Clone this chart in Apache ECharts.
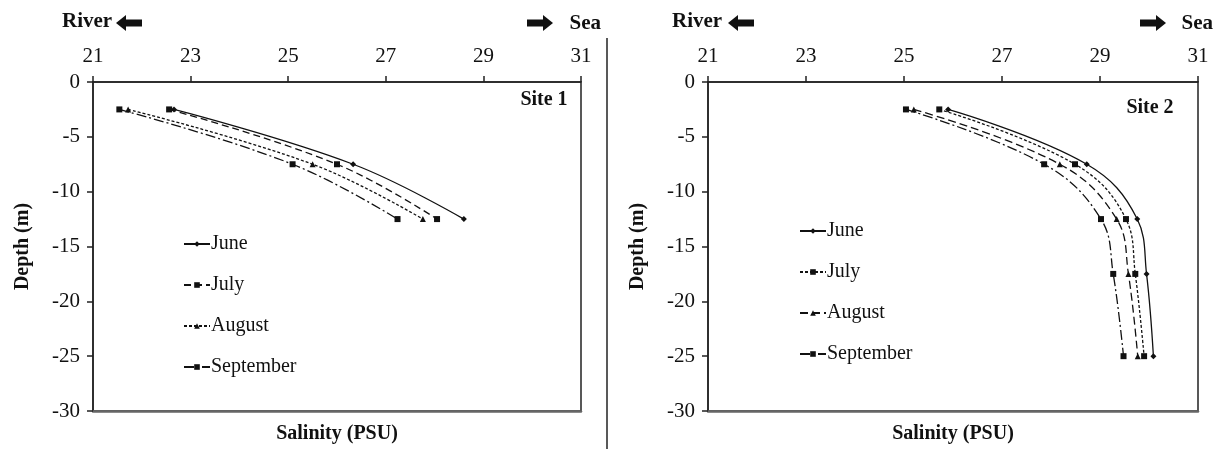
<!DOCTYPE html>
<html>
<head>
<meta charset="utf-8">
<script src="https://cdn.jsdelivr.net/npm/echarts@6/dist/echarts.min.js"></script>
<style>
  html, body { margin: 0; padding: 0; background: #fff; }
  #chart { width: 1216px; height: 449px; }
</style>
</head>
<body>
<div id="chart"></div>
<script>
// depths (m) and salinity (PSU)
var depth1 = [-2.5, -7.5, -12.5];
var site1June = [22.66, 26.33, 28.6];
var site1July = [22.56, 26.0, 28.05];
var site1Aug = [21.72, 25.5, 27.76];
var site1Sep = [21.54, 25.09, 27.24];

var depth2 = [-2.5, -7.5, -12.5, -17.5, -25];
var site2June = [25.9, 28.73, 29.76, 29.95, 30.09];
var site2July = [25.72, 28.49, 29.53, 29.72, 29.9];
var site2Aug = [25.2, 28.18, 29.34, 29.58, 29.77];
var site2Sep = [25.04, 27.86, 29.02, 29.27, 29.48];

var months = ['June', 'July', 'August', 'September'];
var xTicks = [21, 23, 25, 27, 29, 31];
var yTicks = [0, -5, -10, -15, -20, -25, -30];

var serif = 'Liberation Serif';
var ink = '#111';

function pairs(xs, ys) {
    return xs.map(function (x, i) { return [x, ys[i]]; });
}

// line dash + marker per month, per site
var styles1 = {
    'June': { dash: 'solid', symbol: 'diamond', size: 6 },
    'July': { dash: [7, 4], symbol: 'rect', size: 6 },
    'August': { dash: [3, 2], symbol: 'triangle', size: 6 },
    'September': { dash: [10, 3, 2, 3], symbol: 'rect', size: 6 }
};
var styles2 = {
    'June': { dash: 'solid', symbol: 'diamond', size: 6 },
    'July': { dash: [3, 2], symbol: 'rect', size: 6 },
    'August': { dash: [8, 4], symbol: 'triangle', size: 6 },
    'September': { dash: [10, 3, 2, 3], symbol: 'rect', size: 6 }
};

function makeSeries(prefix, idx, name, xs, ys, st) {
    return {
        name: prefix + name,
        type: 'line',
        xAxisIndex: idx * 2,
        yAxisIndex: idx,
        data: pairs(xs, ys),
        smooth: 0.4,
        symbol: st.symbol,
        symbolSize: st.size,
        itemStyle: { color: ink },
        lineStyle: { color: ink, width: 1.3, type: st.dash },
        animation: false,
        z: 3
    };
}

var series = [
    makeSeries('', 0, 'June', site1June, depth1, styles1['June']),
    makeSeries('', 0, 'July', site1July, depth1, styles1['July']),
    makeSeries('', 0, 'August', site1Aug, depth1, styles1['August']),
    makeSeries('', 0, 'September', site1Sep, depth1, styles1['September']),
    makeSeries('S2 ', 1, 'June', site2June, depth2, styles2['June']),
    makeSeries('S2 ', 1, 'July', site2July, depth2, styles2['July']),
    makeSeries('S2 ', 1, 'August', site2Aug, depth2, styles2['August']),
    makeSeries('S2 ', 1, 'September', site2Sep, depth2, styles2['September'])
];

function topAxis(g) {
    return {
        type: 'value', gridIndex: g, position: 'top',
        min: xTicks[0], max: xTicks[xTicks.length - 1], interval: 2,
        axisLine: { show: true, lineStyle: { color: '#222', width: 1.5 } },
        axisTick: { show: true, length: 6, lineStyle: { color: '#222', width: 1.5 } },
        axisLabel: { color: ink, fontFamily: serif, fontSize: 21, margin: 15 },
        splitLine: { show: false }
    };
}
function bottomAxis(g) {
    return {
        type: 'value', gridIndex: g, position: 'bottom',
        min: xTicks[0], max: xTicks[xTicks.length - 1],
        axisLine: { show: true, onZero: false, lineStyle: { color: '#666', width: 2.5 } },
        axisTick: { show: false },
        axisLabel: { show: false },
        splitLine: { show: false },
        name: 'Salinity (PSU)', nameLocation: 'middle', nameGap: 13,
        nameTextStyle: { color: ink, fontFamily: serif, fontSize: 20, fontWeight: 'bold' }
    };
}
function leftAxis(g) {
    return {
        type: 'value', gridIndex: g,
        min: yTicks[yTicks.length - 1], max: yTicks[0], interval: 5,
        axisLine: { show: true, onZero: false, lineStyle: { color: '#222', width: 1.5 } },
        axisTick: { show: true, length: 6, lineStyle: { color: '#222', width: 1.5 } },
        axisLabel: { color: ink, fontFamily: serif, fontSize: 21, margin: 13 },
        splitLine: { show: false },
        name: 'Depth (m)', nameLocation: 'middle', nameGap: 60,
        nameTextStyle: { color: ink, fontFamily: serif, fontSize: 20, fontWeight: 'bold' }
    };
}

function legend(prefix, left, top) {
    return {
        orient: 'vertical', left: left, top: top,
        data: months.map(function (m) { return prefix + m; }),
        itemWidth: 26, itemHeight: 7, itemGap: 21,
        formatter: function (n) { return n.replace(prefix, ''); },
        textStyle: { color: ink, fontFamily: serif, fontSize: 20, padding: [0, 0, 0, -4] },
        selectedMode: false
    };
}

function arrow(x, y, dir) {
    // small block arrow, dir = -1 points left, 1 points right
    var w = 26, h = 11, head = 10, hh = 8;
    var pts = dir > 0
        ? [[0, -h / 2 + 2], [w - head, -h / 2 + 2], [w - head, -hh], [w, 0], [w - head, hh], [w - head, h / 2 - 2], [0, h / 2 - 2]]
        : [[w, -h / 2 + 2], [head, -h / 2 + 2], [head, -hh], [0, 0], [head, hh], [head, h / 2 - 2], [w, h / 2 - 2]];
    return { type: 'polygon', x: x, y: y, shape: { points: pts }, style: { fill: '#111' } };
}

function label(text, x, y, align, size) {
    return {
        type: 'text', x: x, y: y,
        style: { text: text, fill: ink, font: 'bold ' + (size || 20) + 'px "Liberation Serif"', textAlign: align, textVerticalAlign: 'middle' }
    };
}

var chart = echarts.init(document.getElementById('chart'), null, { renderer: 'canvas' });
chart.setOption({
    backgroundColor: '#fff',
    animation: false,
    grid: [
        { left: 93, top: 82, width: 488, height: 331, show: true, borderColor: '#222', borderWidth: 1.5, backgroundColor: 'transparent' },
        { left: 708, top: 82, width: 490, height: 331, show: true, borderColor: '#222', borderWidth: 1.5, backgroundColor: 'transparent' }
    ],
    xAxis: [topAxis(0), bottomAxis(0), topAxis(1), bottomAxis(1)],
    yAxis: [leftAxis(0), leftAxis(1)],
    legend: [legend('', 178, 229), legend('S2 ', 794, 216)],
    series: series,
    graphic: [
        label('River', 62, 22, 'left', 21),
        arrow(116, 23, -1),
        label('Sea', 601, 24, 'right', 21),
        arrow(527, 23, 1),
        label('River', 672, 22, 'left', 21),
        arrow(728, 23, -1),
        label('Sea', 1213, 24, 'right', 21),
        arrow(1140, 23, 1),
        label('Site 1', 544, 100, 'center'),
        label('Site 2', 1150, 108, 'center'),
        { type: 'line', shape: { x1: 607, y1: 38, x2: 607, y2: 449 }, style: { stroke: '#222', lineWidth: 1.5 } }
    ]
});
</script>
</body>
</html>
